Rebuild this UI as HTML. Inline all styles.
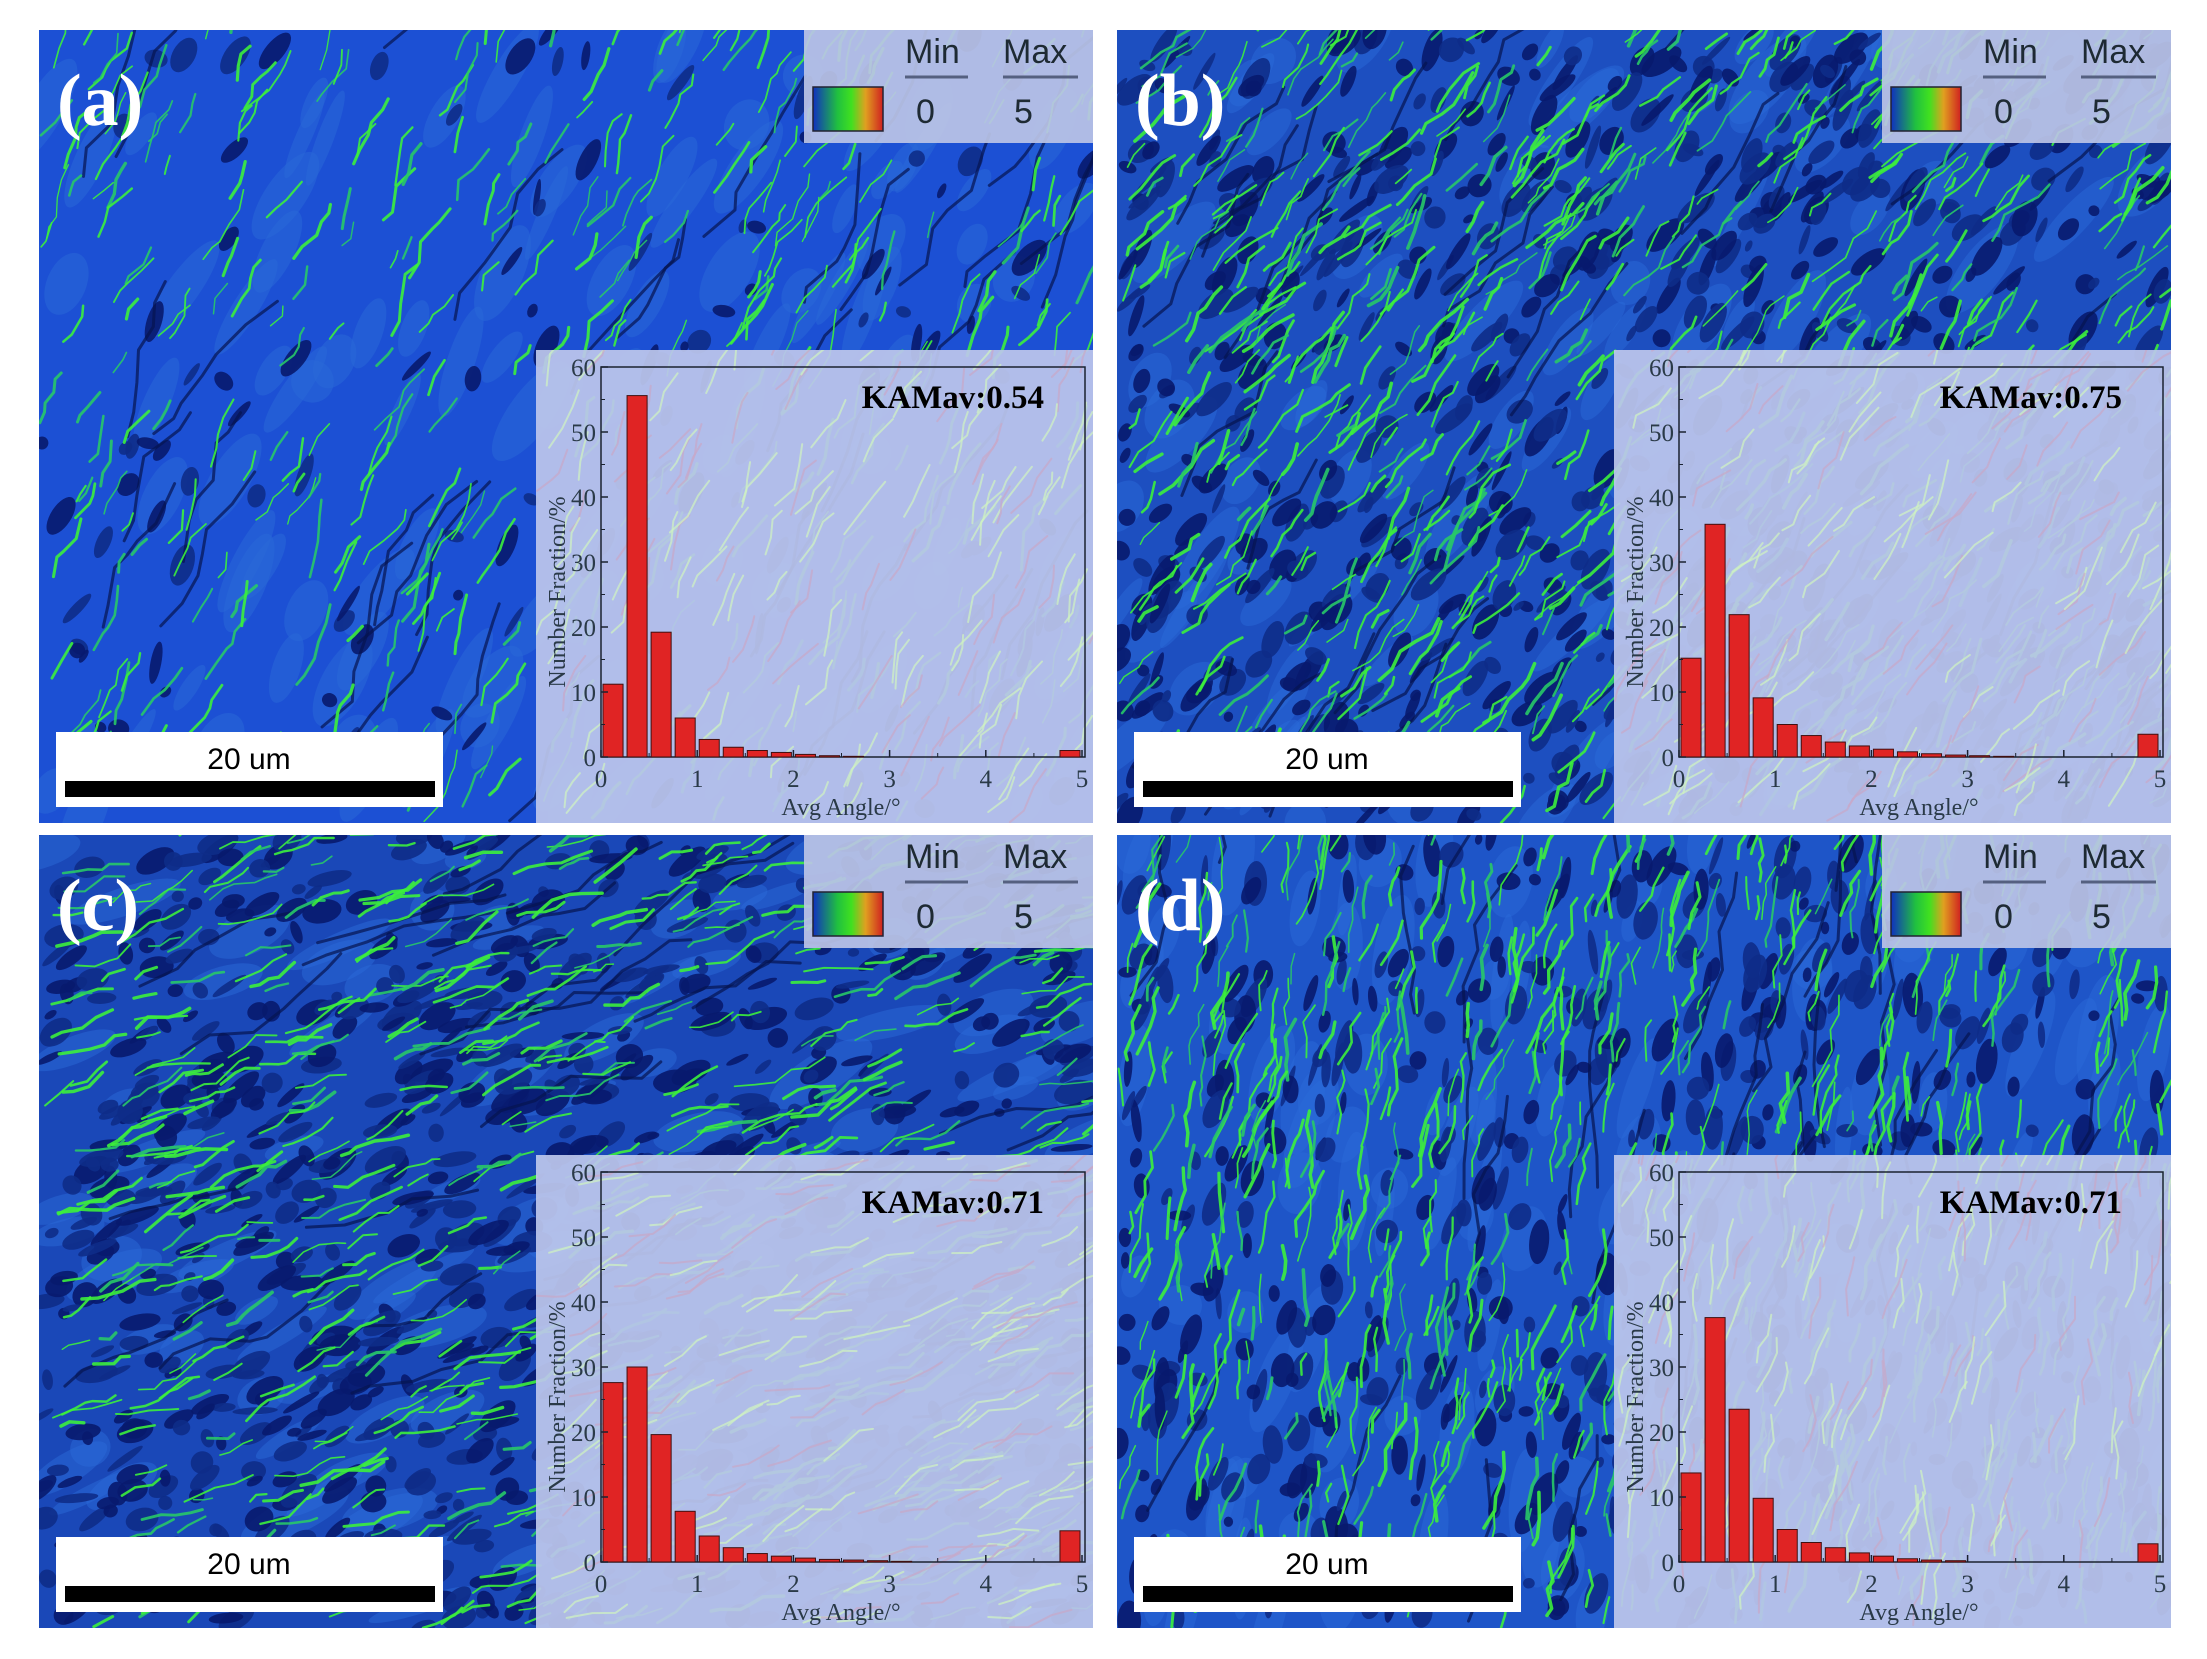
<!DOCTYPE html>
<html><head><meta charset="utf-8"><title>KAM maps</title>
<style>
html,body{margin:0;padding:0;background:#fff;}
svg{display:block;}
</style></head>
<body>
<svg id="fig" xmlns="http://www.w3.org/2000/svg" width="2207" height="1659" viewBox="0 0 2207 1659">
<defs>
<linearGradient id="cbar" x1="0" x2="1" y1="0" y2="0">
<stop offset="0" stop-color="#1030c0"/><stop offset="0.35" stop-color="#20c040"/><stop offset="0.55" stop-color="#40e020"/><stop offset="0.75" stop-color="#e0a020"/><stop offset="1" stop-color="#d02020"/>
</linearGradient>
</defs>
</svg>
<script>
// ---- chart data (number fraction % per 0.25° bin, 0..5°) ----
const binWidth = 0.25;
const xTicks = [0, 1, 2, 3, 4, 5];
const yTicks = [0, 10, 20, 30, 40, 50, 60];
const panelLabels = ["(a)", "(b)", "(c)", "(d)"];
const kamLabels = ["KAMav:0.54", "KAMav:0.75", "KAMav:0.71", "KAMav:0.71"];
const seriesA = [11.2, 55.6, 19.2, 6.0, 2.7, 1.5, 1.0, 0.7, 0.4, 0.2, 0.1, 0, 0, 0, 0, 0, 0, 0, 0, 1.0];
const seriesB = [15.2, 35.8, 21.9, 9.1, 5.0, 3.3, 2.3, 1.7, 1.2, 0.8, 0.5, 0.3, 0.2, 0.1, 0, 0, 0, 0, 0, 3.5];
const seriesC = [27.6, 30.0, 19.6, 7.8, 4.0, 2.2, 1.3, 0.9, 0.6, 0.4, 0.3, 0.2, 0.1, 0, 0, 0, 0, 0, 0, 4.8];
const seriesD = [13.7, 37.6, 23.5, 9.8, 5.0, 3.0, 2.2, 1.4, 0.9, 0.5, 0.3, 0.2, 0, 0, 0, 0, 0, 0, 0, 2.8];
const allSeries = [seriesA, seriesB, seriesC, seriesD];

const NS = "http://www.w3.org/2000/svg";
const svg = document.getElementById("fig");
function mk(tag, attrs, parent) {
  const e = document.createElementNS(NS, tag);
  for (const k in attrs) e.setAttribute(k, attrs[k]);
  (parent || svg).appendChild(e);
  return e;
}
let seed = 12345;
function rnd() { seed = (seed * 1103515245 + 12345) % 2147483648; return seed / 2147483648; }

const panels = [
  {x: 39, y: 30, base: "#1c50d4", dark: 0.5, ang: -62, green: 380, gw: 2.2},
  {x: 1117, y: 30, base: "#1d4fc0", dark: 3.2, ang: -52, green: 700, gw: 2.4},
  {x: 39, y: 835, base: "#1a48b8", dark: 3.6, ang: -22, green: 650, gw: 2.4},
  {x: 1117, y: 835, base: "#1e55c8", dark: 2.4, ang: -78, green: 700, gw: 2.4}
];
const PW = 1054, PH = 793;

function streak(p, parent, x, y, segs, len, stroke, w, op) {
  let d = "M" + x.toFixed(1) + " " + y.toFixed(1);
  const a = p.ang * Math.PI / 180;
  for (let s = 0; s < segs; s++) {
    const aa = a + (rnd() - 0.5) * 0.9;
    const L = len * (0.5 + rnd());
    x += Math.cos(aa) * L; y += Math.sin(aa) * L;
    d += " L" + x.toFixed(1) + " " + y.toFixed(1);
  }
  mk("path", {d: d, stroke: stroke, "stroke-width": w, fill: "none", "stroke-linecap": "round", "stroke-linejoin": "round", opacity: op}, parent);
}

panels.forEach((p, i) => {
  const g = mk("g", {});
  
  
  const cid = "clip" + i;
  const cp = mk("clipPath", {id: cid}, g);
  mk("rect", {x: p.x, y: p.y, width: PW, height: PH}, cp);
  const map = mk("g", {"clip-path": "url(#" + cid + ")"}, g);
  
  
  mk("rect", {x: p.x, y: p.y, width: PW, height: PH, fill: p.base}, map);
  // lighter grains
  for (let k = 0; k < 120; k++) {
    const cx = p.x + rnd() * PW, cy = p.y + rnd() * PH;
    mk("ellipse", {cx: cx, cy: cy, rx: 20 + rnd() * 40, ry: 8 + rnd() * 14,
      transform: "rotate(" + (p.ang + (rnd() - 0.5) * 20) + " " + cx + " " + cy + ")",
      fill: "#2a6ad8", opacity: 0.5}, map);
  }
  // dark navy grain boundary clusters
  const nDark = Math.round(260 * p.dark);
  for (let k = 0; k < nDark; k++) {
    const cx = p.x + rnd() * PW, cy = p.y + rnd() * PH;
    mk("ellipse", {cx: cx, cy: cy, rx: 5 + rnd() * 18, ry: 3 + rnd() * 9,
      transform: "rotate(" + (p.ang + (rnd() - 0.5) * 40) + " " + cx + " " + cy + ")",
      fill: rnd() < 0.5 ? "#081a6e" : "#0e2c88", opacity: 0.9}, map);
  }
  // dark dotted boundary lines
  for (let k = 0; k < 40; k++) {
    streak(p, map, p.x + rnd() * PW, p.y + rnd() * PH, 6, 30, "#061450", 3, 0.7);
  }
  // green streaks
  for (let k = 0; k < p.green; k++) {
    streak(p, map, p.x + rnd() * PW, p.y + rnd() * PH, 2 + Math.floor(rnd() * 4), 14,
      rnd() < 0.7 ? "#3cf03c" : "#28c868", p.gw * (0.6 + rnd() * 0.9), 0.9);
  }

  // panel label
  const lab = mk("text", {x: p.x + 18, y: p.y + 95, "font-family": "Liberation Serif, serif", "font-weight": "bold",
    "font-size": 74, fill: "#fff"}, g);
  lab.textContent = panelLabels[i];
  
  

  // color legend box
  const lg = mk("g", {}, g);
  
  
  mk("rect", {x: p.x + 765, y: p.y, width: PW - 765, height: 113, fill: "#bcc4e6", opacity: 0.92}, lg);
  mk("rect", {x: p.x + 774, y: p.y + 57, width: 70, height: 44, fill: "url(#cbar)", stroke: "#223", "stroke-width": 1.5}, lg);
  [["Min", 866, "0", 877], ["Max", 964, "5", 975]].forEach(t => {
    const a = mk("text", {x: p.x + t[1], y: p.y + 33, "font-family": "Liberation Sans, sans-serif", "font-size": 34, fill: "#1e2a33"}, lg);
    a.textContent = t[0];
    mk("line", {x1: p.x + t[1], x2: p.x + t[1] + (t[0] === "Min" ? 63 : 75), y1: p.y + 47, y2: p.y + 47, stroke: "#556080", "stroke-width": 3}, lg);
    const b = mk("text", {x: p.x + t[3], y: p.y + 93, "font-family": "Liberation Sans, sans-serif", "font-size": 34, fill: "#1e2a33"}, lg);
    b.textContent = t[2];
  });

  // scale bar
  const sb = mk("g", {}, g);
  
  
  mk("rect", {x: p.x + 17, y: p.y + 702, width: 387, height: 75, fill: "#fff"}, sb);
  mk("rect", {x: p.x + 26, y: p.y + 751, width: 370, height: 16, fill: "#000"}, sb);
  const st = mk("text", {x: p.x + 210, y: p.y + 739, "text-anchor": "middle", "font-family": "Liberation Sans, sans-serif", "font-size": 30, fill: "#000"}, sb);
  st.textContent = "20 um";

  // inset histogram
  const ig = mk("g", {}, g);
  
  
  const icid = "iclip" + i;
  const icp = mk("clipPath", {id: icid}, ig);
  mk("rect", {x: p.x + 497, y: p.y + 320, width: PW - 497, height: PH - 320}, icp);
  mk("rect", {x: p.x + 497, y: p.y + 320, width: PW - 497, height: PH - 320, fill: "#bcc6ec", opacity: 0.93}, ig);
  const tex = mk("g", {"clip-path": "url(#" + icid + ")"}, ig);
  for (let k = 0; k < 140; k++) {
    streak(p, tex, p.x + 497 + rnd() * 557, p.y + 320 + rnd() * 473, 3, 18,
      rnd() < 0.6 ? "#d0f4c0" : "#c8a8c8", 2, 0.7);
  }
  const L = p.x + 562, T = p.y + 337, W = 481, H = 390, B = T + H;
  const xs = v => L + v / 5 * W;
  const ys = v => B - v / 60 * H;
  mk("rect", {x: L, y: T, width: W + 3, height: H, fill: "none", stroke: "#1a2230", "stroke-width": 1.5}, ig);
  const series = allSeries[i];
  series.forEach((v, k) => {
    const x0 = xs(k * binWidth) + 2, x1 = xs((k + 1) * binWidth) - 2;
    const bar = mk("rect", {x: x0, y: ys(v), width: x1 - x0, height: B - ys(v), fill: "#e02424", stroke: "#401010", "stroke-width": 1}, ig);
    
    
  });
  xTicks.forEach(t => {
    mk("line", {x1: xs(t), x2: xs(t), y1: B, y2: B - 7, stroke: "#1a2230", "stroke-width": 1.5}, ig);
    if (t < 5) mk("line", {x1: xs(t + 0.5), x2: xs(t + 0.5), y1: B, y2: B - 4, stroke: "#1a2230", "stroke-width": 1}, ig);
    const tx = mk("text", {x: xs(t), y: B + 30, "text-anchor": "middle", "font-family": "Liberation Serif, serif", "font-size": 25, fill: "#2a3a48"}, ig);
    tx.textContent = t;
  });
  yTicks.forEach(t => {
    mk("line", {x1: L, x2: L + 7, y1: ys(t), y2: ys(t), stroke: "#1a2230", "stroke-width": 1.5}, ig);
    if (t < 60) mk("line", {x1: L, x2: L + 4, y1: ys(t + 5), y2: ys(t + 5), stroke: "#1a2230", "stroke-width": 1}, ig);
    const ty = mk("text", {x: L - 5, y: ys(t) + 9, "text-anchor": "end", "font-family": "Liberation Serif, serif", "font-size": 25, fill: "#2a3a48"}, ig);
    ty.textContent = t;
  });
  const xl = mk("text", {x: L + 240, y: B + 58, "text-anchor": "middle", "font-family": "Liberation Serif, serif", "font-size": 24, fill: "#2a3a48"}, ig);
  xl.textContent = "Avg Angle/°";
  
  
  const yl = mk("text", {x: 0, y: 0, "text-anchor": "middle", "font-family": "Liberation Serif, serif", "font-size": 24, fill: "#2a3a48",
    transform: "translate(" + (L - 36) + "," + (T + 225) + ") rotate(-90)"}, ig);
  yl.textContent = "Number Fraction/%";
  
  
  const km = mk("text", {x: L + 481 - 38, y: T + 41, "text-anchor": "end", "font-family": "Liberation Serif, serif", "font-weight": "bold", "font-size": 33, fill: "#000"}, ig);
  km.textContent = kamLabels[i];
  
  
});
</script>
</body></html>
